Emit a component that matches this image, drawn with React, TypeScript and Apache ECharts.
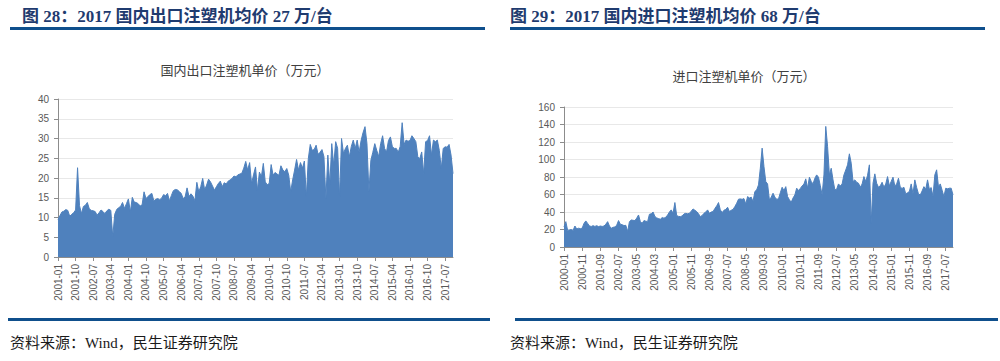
import React, { useEffect, useRef } from "react";
import * as echarts from "echarts";

// 国内出口注塑机单价（万元）, monthly 2001-01 .. 2017-11
const exportPrice: number[] = [
  9.5, 10.5, 11.4, 11.6, 12.0, 11.8, 10.3, 10.8, 11.2, 11.9,
  22.6, 13.0, 11.0, 12.8, 13.1, 13.8, 12.2, 11.8, 11.7, 11.5,
  10.6, 11.2, 11.9, 11.5, 11.0, 11.7, 12.1, 11.8, 5.1, 10.8,
  12.0, 12.5, 12.8, 13.8, 12.3, 13.5, 14.7, 11.4, 15.1, 13.9,
  13.8, 13.5, 12.9, 13.2, 16.5, 14.8, 15.3, 15.8, 16.1, 14.2,
  14.6, 14.8, 14.5, 14.9, 15.8, 15.5, 16.1, 14.2, 15.6, 16.8,
  17.1, 17.0, 16.6, 16.1, 14.8, 15.2, 17.5, 15.3, 16.0, 15.4,
  14.2, 18.9, 16.5, 17.8, 19.9, 17.0, 18.2, 19.7, 19.0, 18.0,
  16.9, 17.8, 18.6, 19.2, 17.8, 18.8, 18.5, 19.2, 19.5, 19.9,
  20.5, 20.3, 20.8, 21.0, 21.2, 22.5, 24.2, 22.0, 23.9, 18.6,
  20.8, 22.8, 16.9, 21.5, 20.3, 23.7, 19.0, 18.3, 18.6, 23.4,
  20.7, 21.4, 21.0, 20.7, 23.1, 22.0, 21.6, 22.4, 20.7, 16.5,
  19.5, 22.0, 24.7, 22.0, 23.9, 22.5, 24.3, 15.2, 24.9, 28.5,
  27.0, 27.2, 28.3, 26.0, 26.5, 27.2, 25.4, 14.8, 25.8, 18.3,
  28.7, 23.2, 29.2, 27.5, 15.2, 30.0, 26.2, 27.5, 28.3, 25.4,
  28.0, 29.6, 27.5, 29.6, 26.5, 29.5, 31.5, 33.0, 28.7, 16.5,
  24.5, 26.5, 28.7, 27.0, 25.4, 28.7, 30.7, 27.5, 26.6, 29.5,
  30.4, 27.9, 27.5, 27.5, 26.5, 28.0, 34.0, 28.5, 29.6, 29.3,
  29.5, 30.7, 30.0, 29.2, 25.4, 24.9, 26.6, 21.1, 29.2, 29.5,
  30.7, 25.8, 29.6, 29.2, 29.6, 27.0, 22.4, 27.5, 27.9, 27.8,
  28.5, 25.8, 21.1,
];

// 进口注塑机单价（万元）, monthly 2000-01 .. 2017-11
const importPrice: number[] = [
  23, 29, 19, 19.5, 20, 19, 24, 20.6, 21.5, 21,
  21.5, 27, 29.8, 27, 24, 23.5, 24.4, 23.5, 24.4, 23.3,
  24, 23.5, 24, 26, 29, 24, 21.4, 22.5, 22.9, 25,
  30.2, 26, 25.5, 24.5, 24.8, 17.6, 29, 30.9, 30.5, 30.2,
  33, 36.6, 29, 27.1, 30.2, 29.5, 29, 37.4, 38, 40,
  35, 33.2, 32.5, 31.7, 33.6, 33, 34, 36.6, 40, 42.4,
  38.5, 50.8, 35.9, 35, 34.7, 35.5, 37.8, 38.5, 38, 38.5,
  41, 43.5, 42, 40.5, 38, 34.7, 36, 38.5, 40, 42.4,
  38.5, 40, 40.5, 44, 47, 50.8, 42.4, 39.3, 42, 43,
  45.4, 40.5, 42, 43, 46.2, 50, 54.6, 55, 54.5, 55.3,
  49.2, 57.6, 56, 57, 51.9, 63.4, 65.3, 71, 90, 113,
  92, 74.8, 72, 53.8, 57, 61.5, 57, 54.6, 55, 62,
  68.3, 64.5, 69, 57.6, 54, 51.1, 56, 59.5, 67.2, 64.5,
  67, 69.8, 72, 77.9, 67.2, 79.8, 75, 72.1, 78.6, 82.4,
  79.8, 70, 59.5, 82.4, 137.8, 115, 82.4, 90, 76.7, 65.3,
  66, 72.1, 69.8, 72, 82.4, 88, 93.9, 106.5, 95.8, 74.8,
  76.7, 74, 72.9, 68.3, 72, 80.5, 74.8, 82, 93.9, 27.1,
  72.9, 83.6, 72.9, 68.3, 70, 74, 68.3, 72, 80.5, 69.8,
  75, 79.8, 69.8, 72, 78.6, 68.3, 67, 68.3, 60.7, 62,
  63.4, 72.1, 60.7, 76.7, 68, 60.7, 59.5, 64, 69, 66,
  76.7, 66, 68, 57.6, 82.4, 88.2, 69, 72.1, 65, 57.6,
  67.2, 66.5, 67.2, 67.2, 59.5,
];

function monthLabels(startYear: number, count: number): string[] {
  const out: string[] = [];
  for (let k = 0; k < count; k++) {
    const y = startYear + Math.floor(k / 12);
    const m = (k % 12) + 1;
    out.push(`${y}-${m < 10 ? "0" + m : m}`);
  }
  return out;
}

const exportCategories = monthLabels(2001, exportPrice.length);
const importCategories = monthLabels(2000, importPrice.length);

const leftFigTitle = "图 28：2017 国内出口注塑机均价 27 万/台";
const rightFigTitle = "图 29：2017 国内进口注塑机均价 68 万/台";
const leftChartTitle = "国内出口注塑机单价（万元）";
const rightChartTitle = "进口注塑机单价（万元）";
const sourceText = "资料来源：Wind，民生证券研究院";

const AREA = "#4f81bd";
const NAVY = "#1f3b6f";
const BAR = "#0f4f8c";
const LABEL = "#595959";
const GRID = "#e8e8e8";
const AXIS = "#8c8c8c";

export default function App() {
  const ref = useRef<HTMLDivElement>(null);
  useEffect(() => {
    if (!ref.current) return;
    const chart = echarts.init(ref.current, null, { renderer: "svg" });
    const figFont = 'bold 17px "Liberation Serif", "Noto Sans CJK SC", serif';
    const srcFont = '15px "Liberation Serif", "Noto Sans CJK SC", serif';
    const ctFont = '13px "Noto Sans CJK SC", sans-serif';
    const catAxis = (gi: number, cats: string[], step: number) => ({
      type: "category",
      gridIndex: gi,
      data: cats,
      boundaryGap: false,
      axisLine: { show: true, lineStyle: { color: AXIS, width: 1 } },
      axisTick: { show: true, interval: step, length: 4, lineStyle: { color: AXIS } },
      axisLabel: {
        interval: step,
        rotate: 90,
        margin: 7,
        color: LABEL,
        fontSize: 10,
        fontFamily: '"Liberation Sans", Arial, sans-serif',
      },
      splitLine: { show: false },
    });
    const valAxis = (gi: number, max: number, interval: number) => ({
      type: "value",
      gridIndex: gi,
      min: 0,
      max,
      interval,
      axisLine: { show: true, lineStyle: { color: AXIS, width: 1 } },
      axisTick: { show: true, length: 4, lineStyle: { color: AXIS } },
      axisLabel: {
        margin: 9,
        color: LABEL,
        fontSize: 10,
        fontFamily: '"Liberation Sans", Arial, sans-serif',
      },
      splitLine: { show: true, lineStyle: { color: GRID, width: 1 } },
    });
    chart.setOption({
      animation: false,
      backgroundColor: "#ffffff",
      grid: [
        { left: 58, top: 99, width: 395, height: 158 },
        { left: 564, top: 107, width: 389, height: 140 },
      ],
      xAxis: [catAxis(0, exportCategories, 8), catAxis(1, importCategories, 9)],
      yAxis: [valAxis(0, 40, 5), valAxis(1, 160, 20)],
      series: [
        {
          type: "line",
          xAxisIndex: 0,
          yAxisIndex: 0,
          data: exportPrice,
          symbol: "none",
          lineStyle: { color: AREA, width: 1 },
          areaStyle: { color: AREA, opacity: 1 },
        },
        {
          type: "line",
          xAxisIndex: 1,
          yAxisIndex: 1,
          data: importPrice,
          symbol: "none",
          lineStyle: { color: AREA, width: 1 },
          areaStyle: { color: AREA, opacity: 1 },
        },
      ],
      graphic: [
        { type: "text", x: 22, y: 16, style: { text: leftFigTitle, font: figFont, fill: NAVY, align: "left", verticalAlign: "middle" } },
        { type: "text", x: 510, y: 16, style: { text: rightFigTitle, font: figFont, fill: NAVY, align: "left", verticalAlign: "middle" } },
        { type: "rect", shape: { x: 10, y: 27, width: 475, height: 3 }, style: { fill: BAR } },
        { type: "rect", shape: { x: 510, y: 27, width: 475, height: 3 }, style: { fill: BAR } },
        { type: "text", x: 245, y: 69, style: { text: leftChartTitle, font: ctFont, fill: "#404040", align: "center", verticalAlign: "middle" } },
        { type: "text", x: 744, y: 75, style: { text: rightChartTitle, font: ctFont, fill: "#404040", align: "center", verticalAlign: "middle" } },
        { type: "rect", shape: { x: 8, y: 318, width: 482, height: 3 }, style: { fill: BAR } },
        { type: "rect", shape: { x: 515, y: 318, width: 483, height: 3 }, style: { fill: BAR } },
        { type: "text", x: 10, y: 343, style: { text: sourceText, font: srcFont, fill: "#1a1a1a", align: "left", verticalAlign: "middle" } },
        { type: "text", x: 510, y: 343, style: { text: sourceText, font: srcFont, fill: "#1a1a1a", align: "left", verticalAlign: "middle" } },
      ],
    });
    return () => chart.dispose();
  }, []);
  return (
    <div
      ref={ref}
      style={{ position: "absolute", left: 0, top: 0, width: 1000, height: 361 }}
    />
  );
}
